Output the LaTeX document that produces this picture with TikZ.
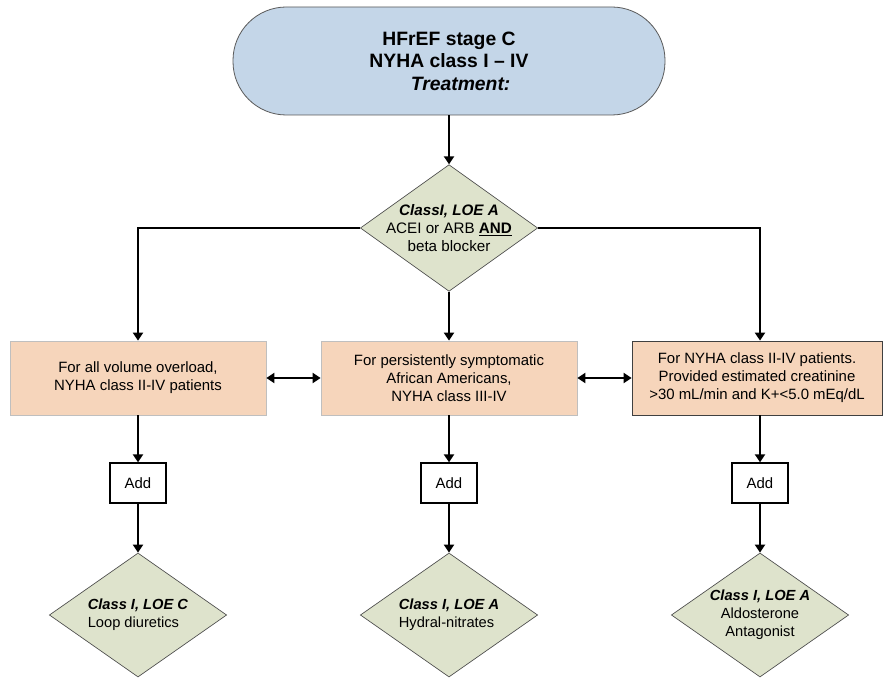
\documentclass[tikz,border=0pt]{standalone}
\usepackage{fontspec}
\setmainfont{Liberation Sans}
\usepackage{xcolor}
\usetikzlibrary{arrows.meta}
\usetikzlibrary{shapes.geometric}

\definecolor{termblue}{RGB}{196,214,232}
\definecolor{decgreen}{RGB}{222,227,204}
\definecolor{peach}{RGB}{246,213,187}

\tikzset{
  term/.style={draw=black!65, line width=0.6pt, fill=termblue, rounded corners=40pt,
    minimum width=324pt, minimum height=81pt, align=center,
    font=\fontsize{14.5}{16.8}\selectfont},
  decision/.style={diamond, draw=black!70, line width=0.5pt, fill=decgreen, inner sep=0pt,
    minimum width=133pt, minimum height=95pt},
  dectext/.style={align=center, inner sep=0pt, font=\fontsize{11.4}{13.8}\selectfont},
  peachbox/.style={draw=black!25, line width=0.6pt, fill=peach, minimum width=192pt,
    minimum height=55.5pt, align=center, font=\fontsize{11.2}{13.5}\selectfont},
  addbox/.style={draw, line width=1pt, fill=white, minimum width=42pt, minimum height=30pt,
    font=\fontsize{11.2}{13.5}\selectfont},
  conn/.style={line width=1.5pt, >={Triangle[length=6pt,width=7.5pt]}}
}

\begin{document}
\begin{tikzpicture}[x=0.75pt,y=-0.75pt]
	\useasboundingbox (0,0) rectangle (884,680);
	% top
	\node[term] (hfref) at (449,61) {\textbf{HFrEF stage C}\\ \textbf{NYHA class I – IV}\\ \hspace*{1.2em}\textbf{\textit{Treatment:}}};
	\node[decision] (acei) at (449,228) {};
	\node[dectext] (aceitxt) at (acei) {\textbf{\textit{ClassI, LOE A}}\\ ACEI or ARB \underline{\textbf{AND}}\\ beta blocker};
	% middle row
	\node[peachbox] (vol) at (138,378) {For all volume overload,\\ NYHA class II-IV patients};
	\node[peachbox] (afr) at (449,378) {For persistently symptomatic\\ African Americans,\\ NYHA class III-IV};
	\node[peachbox, draw=black!75, minimum width=187.5pt] (nyha) at (757,378) {For NYHA class II-IV patients.\\ Provided estimated creatinine\\ >30 mL/min and K+<5.0 mEq/dL};
	\coordinate (rc) at (760,228);
	% add boxes
	\node[addbox] (add1) at (138,483) {Add};
	\node[addbox] (add2) at (449,483) {Add};
	\node[addbox] (add3) at (760,483) {Add};
	% bottom
	\node[decision, minimum height=93pt] (loop) at (138,615) {};
	\node[dectext, align=left, font=\fontsize{11}{13.5}\selectfont] (looptxt) at (loop) {\textbf{\textit{Class I, LOE C}}\\ Loop diuretics};
	\node[decision, minimum height=93pt] (hydral) at (449,615) {};
	\node[dectext, align=left, font=\fontsize{11}{13.5}\selectfont] (hydraltxt) at (hydral) {\textbf{\textit{Class I, LOE A}}\\ Hydral-nitrates};
	\node[decision, minimum height=93pt] (aldo) at (760,615) {};
	\node[dectext, font=\fontsize{11}{13.5}\selectfont] (aldotxt) at (aldo) {\textbf{\textit{Class I, LOE A}}\\ Aldosterone\\ Antagonist};
	% connectors
	\draw[conn,->] (hfref) -- (acei);
	\draw[conn,->] (acei.west) -| (vol);
	\draw[conn,->] (acei) -- (afr);
	\draw[conn,->] (acei.east) -- (rc) -- (rc |- nyha.north);
	\draw[conn,<->] (vol) -- (afr);
	\draw[conn,<->] (afr) -- (nyha);
	\draw[conn,->] (vol) -- (add1);
	\draw[conn,->] (afr) -- (add2);
	\draw[conn,->] (add3 |- nyha.south) -- (add3);
	\draw[conn,->] (add1) -- (loop);
	\draw[conn,->] (add2) -- (hydral);
	\draw[conn,->] (add3) -- (aldo);
\end{tikzpicture}
\end{document}
